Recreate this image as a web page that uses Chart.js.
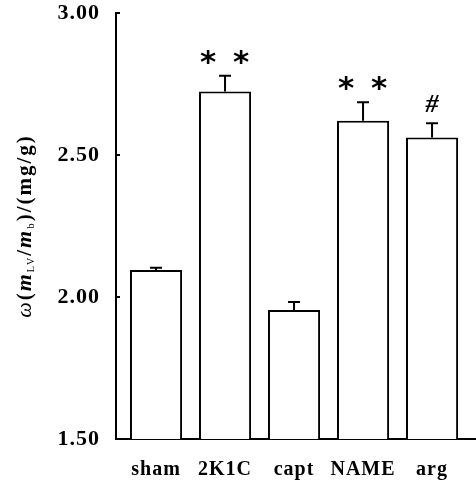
<!DOCTYPE html>
<html>
<head>
<meta charset="utf-8">
<script src="https://cdn.jsdelivr.net/npm/chart.js@4"></script>
<style>
  body { margin: 0; background: #fff; }
</style>
</head>
<body>
<canvas id="myChart" width="476" height="480"></canvas>
<script>
let categories = ['sham', '2K1C', 'capt', 'NAME', 'arg']
let means = [2.095, 2.724, 1.954, 2.621, 2.562]
let errors = [0.008, 0.055, 0.028, 0.065, 0.050]
let marks = ['', '* *', '', '* *', '#']
let yTicks = [1.5, 2.0, 2.5, 3.0]

let ctx = document.querySelector('#myChart')

let spacing = {
    id: 'spacing',
    beforeDraw(chart) {
        chart.ctx.letterSpacing = '1px'
    }
}

let errorBars = {
    id: 'errorBars',
    afterDatasetsDraw(chart) {
        let c = chart.ctx
        let y = chart.scales.y
        let meta = chart.getDatasetMeta(0)
        c.save()
        c.strokeStyle = '#000'
        c.lineWidth = 2
        meta.data.forEach((bar, i) => {
            let top = y.getPixelForValue(means[i] + errors[i])
            let base = y.getPixelForValue(means[i])
            c.beginPath()
            c.moveTo(bar.x, base)
            c.lineTo(bar.x, top)
            c.moveTo(bar.x - 6, top)
            c.lineTo(bar.x + 6, top)
            c.stroke()

            c.fillStyle = '#000'
            c.textAlign = 'center'
            if (marks[i] == '#') {
                c.font = 'italic bold 26px "Liberation Serif"'
                c.letterSpacing = '0px'
                c.fillText(marks[i], bar.x, top - 11)
            } else if (marks[i]) {
                c.font = 'bold 31px "DejaVu Sans"'
                c.letterSpacing = '3px'
                c.fillText(marks[i], bar.x + 1, top - 4)
            }
        })
        c.restore()
    }
}

let yTitle = {
    id: 'yTitle',
    afterDraw(chart) {
        let c = chart.ctx
        let area = chart.chartArea
        let bold = 'bold 21px "Liberation Serif"'
        let parts = [
            { t: 'ω', f: 'italic 22px "Liberation Serif"', dy: 0 },
            { t: '(', f: bold, dy: 0 },
            { t: 'm', f: 'italic bold 22px "Liberation Serif"', dy: 0 },
            { t: 'LV', f: '10px "Liberation Serif"', dy: 3 },
            { t: '/', f: bold, dy: 0 },
            { t: 'm', f: 'italic bold 22px "Liberation Serif"', dy: 0 },
            { t: 'b', f: '11px "Liberation Serif"', dy: 3 },
            { t: ')/(mg/g)', f: bold, dy: 0 }
        ]
        c.save()
        c.letterSpacing = '2px'
        c.fillStyle = '#000'
        c.textBaseline = 'alphabetic'
        c.textAlign = 'left'
        let total = 0
        parts.forEach(p => {
            c.font = p.f
            p.w = c.measureText(p.t).width
            total += p.w
        })
        c.translate(31, (area.top + area.bottom) / 2)
        c.rotate(-Math.PI / 2)
        let x = -total / 2
        parts.forEach(p => {
            c.font = p.f
            c.fillText(p.t, x, p.dy)
            x += p.w
        })
        c.restore()
    }
}

let graphData = {
    type: 'bar',
    data: {
        datasets: [{
            data: means.map((v, i) => ({ x: i, y: v })),
            backgroundColor: '#fff',
            borderColor: '#000',
            borderWidth: 2,
            barPercentage: 0.755,
            categoryPercentage: 1
        }]
    },
    options: {
        responsive: false,
        animation: false,
        layout: { padding: { top: 13, left: 0, right: 0, bottom: 0 } },
        plugins: {
            legend: { display: false },
            tooltip: { enabled: false }
        },
        scales: {
            x: {
                type: 'linear',
                offset: false,
                min: -0.58,
                max: 4.637,
                afterBuildTicks: s => { s.ticks = categories.map((_, i) => ({ value: i })) },
                afterFit: s => { s.height = 41; s.paddingLeft = 0; s.paddingRight = 0 },
                grid: { display: false, drawTicks: false },
                border: { display: true, color: '#000', width: 2 },
                ticks: {
                    autoSkip: false,
                    maxRotation: 0,
                    padding: 19,
                    color: '#000',
                    font: { family: 'Liberation Serif', size: 20, weight: 'bold' },
                    callback: v => categories[v]
                }
            },
            y: {
                min: 1.5,
                max: 3.0,
                afterBuildTicks: s => { s.ticks = yTicks.map(v => ({ value: v })) },
                afterFit: s => { s.width = 116; s.paddingTop = 0; s.paddingBottom = 0 },
                grid: { drawOnChartArea: false, tickLength: -4, color: '#000', lineWidth: 2 },
                border: { display: true, color: '#000', width: 2 },
                ticks: {
                    padding: 20,
                    color: '#000',
                    font: { family: 'Liberation Serif', size: 22, weight: 'bold' },
                    callback: v => v.toFixed(2)
                }
            }
        }
    },
    plugins: [spacing, errorBars, yTitle]
}

let myChart = new Chart(ctx, graphData)
</script>
</body>
</html>
